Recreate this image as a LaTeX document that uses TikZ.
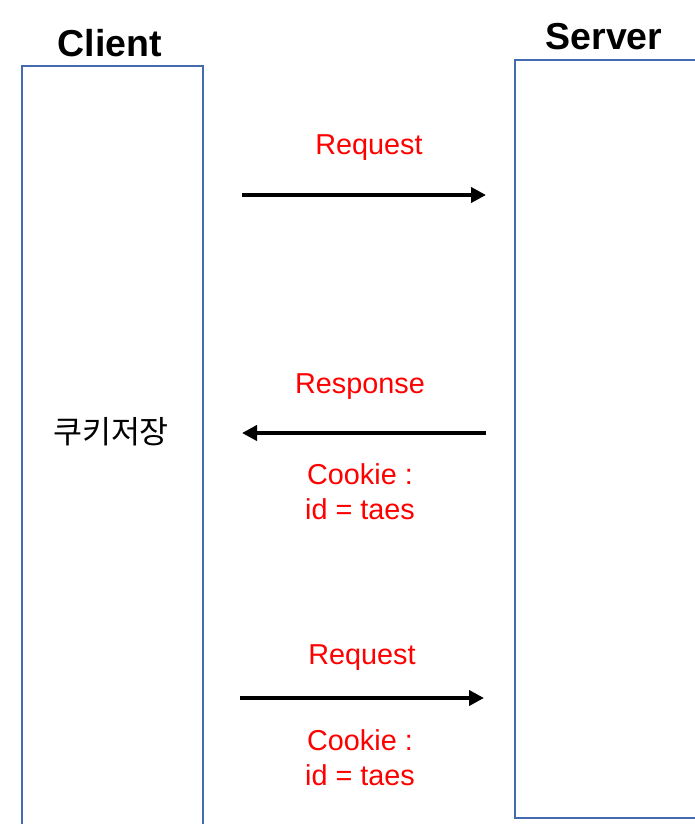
\documentclass[tikz,border=0pt]{standalone}
\usepackage{fontspec}
\setmainfont{Liberation Sans}
\newfontfamily\kofont{Noto Sans CJK KR}
\usetikzlibrary{arrows.meta}
\definecolor{boxblue}{RGB}{68,106,176}
\definecolor{lblred}{RGB}{255,0,0}
\tikzset{
  lane/.style={draw=boxblue, line width=1.8pt},
  title/.style={font=\fontsize{37.5}{40}\selectfont\bfseries, text=black, inner sep=0pt},
  lbl/.style={font=\fontsize{28.8}{35}\selectfont, text=lblred, align=center, inner sep=0pt},
  msg/.style={line width=4pt, -{Triangle[length=15pt,width=15pt]}},
}
\begin{document}
\begin{tikzpicture}[x=1pt,y=-1pt]
\useasboundingbox (0,0) rectangle (695,824);
\fill[white] (0,0) rectangle (695,824);
% lanes
\draw[lane] (22,830) -- (22,66) -- (203,66) -- (203,830);
\draw[lane] (705,818) -- (515,818) -- (515,60) -- (705,60);
\node[title] (client) at (110,43) {Client};
\node[title] (server) at (604,37) {Server};
\node[font=\kofont\fontsize{31.5}{34}\selectfont, inner sep=0pt] (store) at (111,432) {쿠키저장};
% message endpoints
\coordinate (a1) at (242,195); \coordinate (b1) at (486,195);
\coordinate (a2) at (486,433); \coordinate (b2) at (242,433);
\coordinate (a3) at (240,698); \coordinate (b3) at (484,698);
\draw[msg] (a1) -- (b1);
\draw[msg] (a2) -- (b2);
\draw[msg] (a3) -- (b3);
% labels
\node[lbl] (req1) at (369,148) {Request};
\node[lbl] (resp) at (360,387) {Response};
\node[lbl] (cook1) at (360,492) {Cookie :\\id = taes};
\node[lbl] (req2) at (362,658) {Request};
\node[lbl] (cook2) at (360,758) {Cookie :\\id = taes};
\end{tikzpicture}
\end{document}
